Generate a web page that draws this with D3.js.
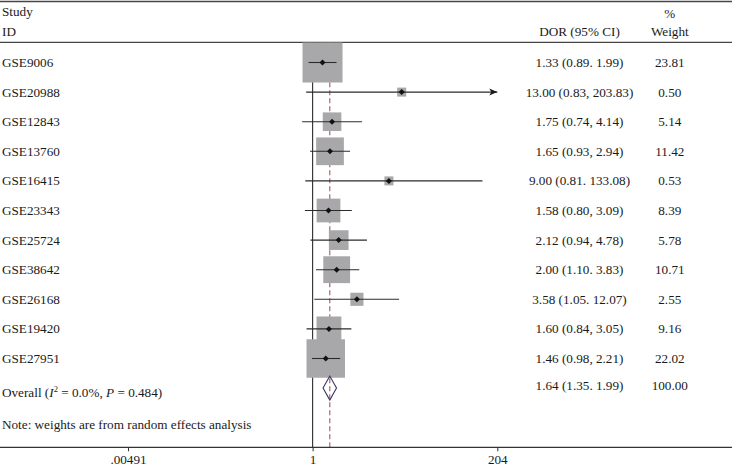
<!DOCTYPE html>
<html><head><meta charset="utf-8">
<script src="https://cdn.jsdelivr.net/npm/d3@7"></script>
<style>
html,body{margin:0;padding:0;background:#fff;}
svg{display:block;font-family:"Liberation Serif","DejaVu Serif",serif;}
</style></head>
<body><svg id="c" width="732" height="465"></svg>
<script>
const studies = ["GSE9006","GSE20988","GSE12843","GSE13760","GSE16415","GSE23343","GSE25724","GSE38642","GSE26168","GSE19420","GSE27951"];
const dor   = [1.33, 13.00, 1.75, 1.65, 9.00, 1.58, 2.12, 2.00, 3.58, 1.60, 1.46];
const lower = [0.89, 0.83, 0.74, 0.93, 0.81, 0.80, 0.94, 1.10, 1.05, 0.84, 0.98];
const upper = [1.99, 203.83, 4.14, 2.94, 133.08, 3.09, 4.78, 3.83, 12.07, 3.05, 2.21];
const weights = [23.81, 0.50, 5.14, 11.42, 0.53, 8.39, 5.78, 10.71, 2.55, 9.16, 22.02];
const ciLabels = ["1.33 (0.89. 1.99)","13.00 (0.83, 203.83)","1.75 (0.74, 4.14)","1.65 (0.93, 2.94)","9.00 (0.81. 133.08)","1.58 (0.80, 3.09)","2.12 (0.94, 4.78)","2.00 (1.10. 3.83)","3.58 (1.05. 12.07)","1.60 (0.84, 3.05)","1.46 (0.98, 2.21)"];
const weightLabels = ["23.81","0.50","5.14","11.42","0.53","8.39","5.78","10.71","2.55","9.16","22.02"];
const overall = {est: 1.64, lo: 1.35, hi: 1.99, ciLabel: "1.64 (1.35. 1.99)", weightLabel: "100.00"};
const tickValues = [0.00491, 1, 204];
const tickLabels = [".00491", "1", "204"];

const svg = d3.select("#c");
const W = 732;
const FS = 13.2;
const x = d3.scaleLog().domain([0.00491, 204]).range([128, 497.3]);
const rowY = d3.scaleLinear().domain([0, 1]).range([62.5, 92.1]);
const axisY = 447.3, headTop = 1.5, headLine = 42.3;
const colCI = 579.5, colW = 669.8;
const lineCol = "#2b2b2b";

// horizontal rules
svg.append("line").attr("x1",0).attr("x2",W).attr("y1",headTop).attr("y2",headTop).attr("stroke","#444").attr("stroke-width",1.3);
svg.append("line").attr("x1",0).attr("x2",W).attr("y1",headLine).attr("y2",headLine).attr("stroke","#444").attr("stroke-width",1.3);

// headers
const t = (txt, xx, yy, anchor) => svg.append("text").attr("x",xx).attr("y",yy).attr("text-anchor",anchor||"start").attr("font-size",FS).attr("fill","#1a1a1a").text(txt);
t("Study", 2, 16);
t("ID", 2, 35.5);
t("DOR (95% CI)", colCI, 35.5, "middle");
t("%", colW, 18, "middle");
t("Weight", colW, 35.5, "middle");

// reference lines
svg.append("line").attr("x1",x(1)).attr("x2",x(1)).attr("y1",headLine).attr("y2",axisY).attr("stroke",lineCol).attr("stroke-width",1.1);
svg.append("line").attr("x1",x(overall.est)).attr("x2",x(overall.est)).attr("y1",headLine).attr("y2",axisY)
  .attr("stroke","#a0566c").attr("stroke-width",1.1).attr("stroke-dasharray","5,3");

// boxes
const data = studies.map((s,i)=>({s, i, est:dor[i], lo:lower[i], hi:upper[i], w:weights[i], ci:ciLabels[i], wl:weightLabels[i]}));
const side = w => Math.max(9, 8.2*Math.sqrt(w));
svg.selectAll("rect.box").data(data).enter().append("rect")
  .attr("x", d=>x(d.est)-side(d.w)/2).attr("y", d=>rowY(d.i)-side(d.w)/2)
  .attr("width", d=>side(d.w)).attr("height", d=>side(d.w)).attr("fill","#a8a8aa");

// CI lines
const xMax = x.domain()[1];
svg.selectAll("line.ci").data(data).enter().append("line")
  .attr("x1", d=>x(d.lo)).attr("x2", d=>x(Math.min(d.hi, xMax)))
  .attr("y1", d=>rowY(d.i)).attr("y2", d=>rowY(d.i))
  .attr("stroke", lineCol).attr("stroke-width",1.1);
// arrows for CIs reaching the axis edge
data.filter(d=>d.hi >= xMax*0.99).forEach(d=>{
  const xe = x(Math.min(d.hi,xMax)), y = rowY(d.i);
  svg.append("path").attr("d",`M${xe},${y} L${xe-8},${y-3.5} L${xe-6},${y} L${xe-8},${y+3.5} Z`).attr("fill","#1a1a1a");
});

// point markers
svg.selectAll("path.pt").data(data).enter().append("path")
  .attr("d", d=>{const cx=x(d.est), cy=rowY(d.i), r=3; return `M${cx},${cy-r} L${cx+r},${cy} L${cx},${cy+r} L${cx-r},${cy} Z`;})
  .attr("fill","#111");

// overall diamond
const oy = rowY(studies.length);
svg.append("path")
  .attr("d", `M${x(overall.lo)},${oy} L${x(overall.est)},${oy-12} L${x(overall.hi)},${oy} L${x(overall.est)},${oy+12} Z`)
  .attr("fill","none").attr("stroke","#3b3566").attr("stroke-width",1.1);

// row labels
data.forEach(d=>{
  const y = rowY(d.i)+4.5;
  t(d.s, 2, y);
  t(d.ci, colCI, y, "middle");
  t(d.wl, colW, y, "middle");
});
// overall label
const ot = svg.append("text").attr("x",2).attr("y",oy+9).attr("font-size",FS).attr("fill","#1a1a1a");
ot.append("tspan").text("Overall (");
ot.append("tspan").attr("font-style","italic").text("I");
ot.append("tspan").attr("font-size",FS*0.65).attr("dy",-4.8).text("2");
ot.append("tspan").attr("dy",4.8).text(" = 0.0%, ");
ot.append("tspan").attr("font-style","italic").text("P");
ot.append("tspan").text(" = 0.484)");
t(overall.ciLabel, colCI, oy+1.5, "middle");
t(overall.weightLabel, colW, oy+1.5, "middle");

t("Note: weights are from random effects analysis", 2, 429);

// x axis
svg.append("line").attr("x1",0).attr("x2",W).attr("y1",axisY).attr("y2",axisY).attr("stroke","#333").attr("stroke-width",1.3);
const ax = svg.append("g").attr("transform",`translate(0,${axisY})`)
  .call(d3.axisBottom(x).tickValues(tickValues).tickFormat((v,i)=>tickLabels[i]).tickSize(4).tickPadding(3));
ax.select(".domain").remove();
ax.selectAll(".tick line").attr("stroke","#333");
ax.selectAll(".tick text").attr("font-size",FS).attr("font-family","Liberation Serif, DejaVu Serif, serif").attr("fill","#1a1a1a");
</script></body></html>
